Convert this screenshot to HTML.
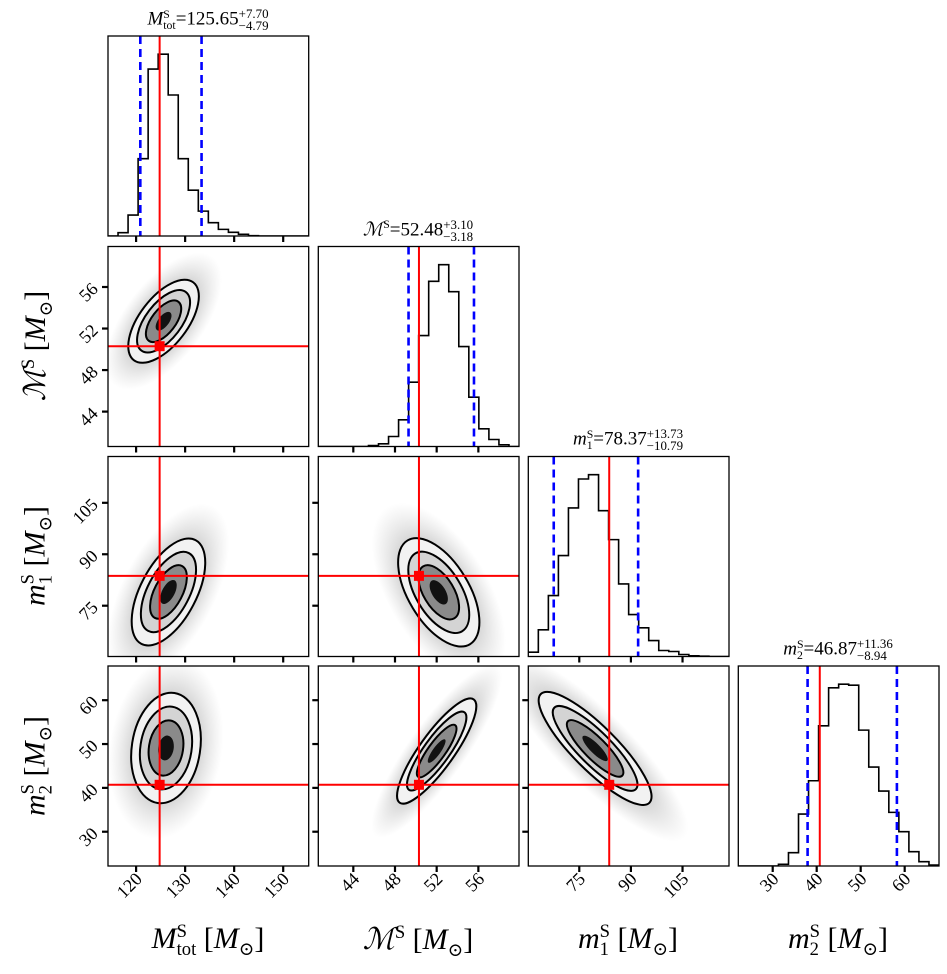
<!DOCTYPE html>
<html><head><meta charset="utf-8">
<style>
html,body{margin:0;padding:0;background:#fff;}
#wrap{position:relative;width:947px;height:974px;overflow:hidden;font-family:"Liberation Serif","DejaVu Serif",serif;}
svg{position:absolute;left:0;top:0;}
.lbl{position:absolute;white-space:nowrap;color:#000;}
.title{font-size:19px;transform:translateX(-50%);}
.xl{font-size:30px;transform:translateX(-50%);}
.yl{font-size:30px;transform:translate(-50%,-50%) rotate(-90deg);}
.ss{display:inline-flex;flex-direction:column;font-size:0.68em;line-height:0.95em;vertical-align:middle;}
.ss2{display:inline-flex;flex-direction:column;font-size:0.62em;line-height:1.0em;vertical-align:middle;}
i{font-style:italic;}
sub,sup{font-size:0.62em;}
</style></head>
<body>
<div id="wrap">
<svg id="chart" width="947" height="974" viewBox="0 0 947 974"></svg>

<div class="lbl title" style="left:208px;top:8px"><i>M</i><span class="ss2"><span>S</span><span>tot</span></span>=125.65<span class="ss"><span>+7.70</span><span>−4.79</span></span></div>
<div class="lbl title" style="left:418px;top:218px"><span style="font-family:'DejaVu Serif',serif;font-style:italic">ℳ</span><sup>S</sup>=52.48<span class="ss"><span>+3.10</span><span>−3.18</span></span></div>
<div class="lbl title" style="left:628px;top:428px"><i>m</i><span class="ss2"><span>S</span><span>1</span></span>=78.37<span class="ss"><span>+13.73</span><span>−10.79</span></span></div>
<div class="lbl title" style="left:838px;top:638px"><i>m</i><span class="ss2"><span>S</span><span>2</span></span>=46.87<span class="ss"><span>+11.36</span><span>−8.94</span></span></div>

<div class="lbl xl" style="left:208px;top:922px"><i>M</i><span class="ss2"><span>S</span><span>tot</span></span> [<i>M</i><sub>⊙</sub>]</div>
<div class="lbl xl" style="left:418px;top:922px"><span style="font-family:'DejaVu Serif',serif;font-style:italic">ℳ</span><sup>S</sup> [<i>M</i><sub>⊙</sub>]</div>
<div class="lbl xl" style="left:628px;top:922px"><i>m</i><span class="ss2"><span>S</span><span>1</span></span> [<i>M</i><sub>⊙</sub>]</div>
<div class="lbl xl" style="left:838px;top:922px"><i>m</i><span class="ss2"><span>S</span><span>2</span></span> [<i>M</i><sub>⊙</sub>]</div>

<div class="lbl yl" style="left:38px;top:346px"><span style="font-family:'DejaVu Serif',serif;font-style:italic">ℳ</span><sup>S</sup> [<i>M</i><sub>⊙</sub>]</div>
<div class="lbl yl" style="left:38px;top:556px"><i>m</i><span class="ss2"><span>S</span><span>1</span></span> [<i>M</i><sub>⊙</sub>]</div>
<div class="lbl yl" style="left:38px;top:766px"><i>m</i><span class="ss2"><span>S</span><span>2</span></span> [<i>M</i><sub>⊙</sub>]</div>
</div>

<script>
// ---- data ----
const paramNames = ["mtot","chirp","m1","m2"];
const axisLo = [114.27, 40.64, 60.19, 22.18];
const axisHi = [155.2, 59.9, 118.5, 67.8];
const truths = [124.8, 50.3, 83.7, 40.7];
const qLow = [120.86, 49.30, 67.58, 37.93];
const qHigh = [133.35, 55.58, 92.10, 58.23];
const histMtot = [0,10,63,233,503,548,425,233,138,75,40,20,11,5,1,0,0,0,0,0];
const histChirp = [0,0,0,0,0,3,8,30,80,193,333,496,546,465,300,148,53,21,5,0];
const histM1 = [13,80,183,303,446,533,546,438,351,218,126,86,48,18,15,6,2,1,0,0];
const histM2 = [0,0,0,0,5,40,156,256,421,535,546,543,408,297,225,161,103,43,13,3];
const tickMtot = [120,130,140,150];
const tickChirp = [44,48,52,56];
const tickM1 = [75,90,105];
const tickM2 = [30,40,50,60];
// 2D pairs: [col, row]
const pairCols = [0,0,1,0,1,2];
const pairRows = [1,2,2,3,3,3];
const pairMeanX = [125.6,126.6,52.2,126.1,52.0,79.6];
const pairMeanY = [52.7,79.0,78.9,49.1,48.4,49.0];
const pairSdX = [3.6,3.75,1.95,3.55,1.9,8.2];
const pairSdY = [2.0,7.8,7.9,6.3,6.0,6.45];
const pairRho = [0.6,0.55,-0.55,0.15,0.85,-0.85];

const hists = [histMtot,histChirp,histM1,histM2];
const ticks = [tickMtot,tickChirp,tickM1,tickM2];

// ---- layout ----
const colX = [108,318.3,528.3,738.3], rowY=[36,246.5,456.5,666], PW=200.7, PH=200;
const NS="http://www.w3.org/2000/svg";
const svg=document.getElementById('chart');
function mk(tag,attrs,parent){const e=document.createElementNS(NS,tag);for(const k in attrs)e.setAttribute(k,attrs[k]);(parent||svg).appendChild(e);return e;}
function xs(i,v){return colX[i]+(v-axisLo[i])/(axisHi[i]-axisLo[i])*PW;}
function ys(j,v){return rowY[j]+PH-(v-axisLo[j])/(axisHi[j]-axisLo[j])*PH;}

const defs=mk('defs',{});
for(let c=0;c<4;c++)for(let r=c;r<4;r++){
  const cp=mk('clipPath',{id:'clip'+c+'_'+r},defs);
  mk('rect',{x:colX[c],y:rowY[r],width:PW,height:PH},cp);
}
const rg=mk('radialGradient',{id:'cloud'},defs);
mk('stop',{offset:'0%','stop-color':'#555','stop-opacity':'0.55'},rg);
mk('stop',{offset:'60%','stop-color':'#777','stop-opacity':'0.3'},rg);
mk('stop',{offset:'100%','stop-color':'#999','stop-opacity':'0'},rg);

// diagonal histograms
for(let i=0;i<4;i++){
  const g=mk('g',{'clip-path':'url(#clip'+i+'_'+i+')'});
  
  
  const h=hists[i], n=h.length, mx=Math.max(...h)*1.1;
  const bw=(axisHi[i]-axisLo[i])/n;
  let d='';
  for(let b=0;b<n;b++){
    const x0=xs(i,axisLo[i]+b*bw), x1=xs(i,axisLo[i]+(b+1)*bw);
    const y=rowY[i]+PH-h[b]/mx*PH;
    d+=(b===0?'M'+x0+','+y:'L'+x0+','+y)+' L'+x1+','+y+' ';
  }
  const p=mk('path',{d:d,fill:'none',stroke:'#000','stroke-width':1.6},g);
  
  
  [qLow[i],qHigh[i]].forEach((q,k)=>{
    const l=mk('line',{x1:xs(i,q),x2:xs(i,q),y1:rowY[i],y2:rowY[i]+PH,stroke:'#0000ff','stroke-width':2.6,'stroke-dasharray':'8,5'},g);
    
    
  });
  const t=mk('line',{x1:xs(i,truths[i]),x2:xs(i,truths[i]),y1:rowY[i],y2:rowY[i]+PH,stroke:'#ff0000','stroke-width':2},g);
  
  
}

// 2D panels
function ell(c,r,k,mxv,myv,sdx,sdy,rho,attrs,parent){
  const a=PW/(axisHi[c]-axisLo[c]), b=PH/(axisHi[r]-axisLo[r]);
  const A=a*a*sdx*sdx, C=b*b*sdy*sdy, B=-a*b*rho*sdx*sdy;
  const tr=(A+C)/2, dt=Math.sqrt(((A-C)/2)**2+B*B);
  const l1=tr+dt, l2=Math.max(tr-dt,0.01);
  const ang=Math.atan2(l1-A,B)*180/Math.PI;
  const cx=xs(c,mxv), cy=ys(r,myv);
  const e=mk('ellipse',Object.assign({cx:cx,cy:cy,rx:k*Math.sqrt(l1),ry:k*Math.sqrt(l2),transform:'rotate('+(Math.abs(B)<1e-9?(A>=C?0:90):ang)+' '+cx+' '+cy+')'},attrs),parent);
  return e;
}
for(let p=0;p<pairCols.length;p++){
  const c=pairCols[p], r=pairRows[p];
  const nm=paramNames[c]+'-vs-'+paramNames[r];
  const g=mk('g',{'clip-path':'url(#clip'+c+'_'+r+')'});
  
  
  const args=[pairMeanX[p],pairMeanY[p],pairSdX[p],pairSdY[p],pairRho[p]];
  const cl=ell(c,r,3.3,...args,{fill:'url(#cloud)'},g);
  
  
  ell(c,r,2.0,...args,{fill:'#f2f2f2',stroke:'#000','stroke-width':2},g);
  ell(c,r,1.5,...args,{fill:'#d4d4d4',stroke:'#000','stroke-width':2},g);
  ell(c,r,1.0,...args,{fill:'#8a8a8a',stroke:'#000','stroke-width':2},g);
  ell(c,r,0.45,...args,{fill:'#111'},g);
  const vx=xs(c,truths[c]), hy=ys(r,truths[r]);
  const tl=mk('line',{x1:vx,x2:vx,y1:rowY[r],y2:rowY[r]+PH,stroke:'#ff0000','stroke-width':2},g);
  
  
  const th=mk('line',{x1:colX[c],x2:colX[c]+PW,y1:hy,y2:hy,stroke:'#ff0000','stroke-width':2},g);
  
  
  const tm=mk('rect',{x:vx-5,y:hy-5,width:10,height:10,fill:'#ff0000'},g);
  
  
}

// frames and ticks
for(let c=0;c<4;c++)for(let r=c;r<4;r++){
  const f=mk('rect',{x:colX[c],y:rowY[r],width:PW,height:PH,fill:'none',stroke:'#000','stroke-width':1.3});
  
  
  const yb=rowY[r]+PH;
  ticks[c].forEach(v=>{
    const x=xs(c,v);
    mk('line',{x1:x,x2:x,y1:yb,y2:yb+6,stroke:'#000','stroke-width':2.2});
    if(r===3){
      const t=mk('text',{x:x+7,y:yb+14,'text-anchor':'end','font-size':18,'font-family':'Liberation Serif, serif',transform:'rotate(-45 '+(x+7)+' '+(yb+14)+')'});
      t.textContent=v;
      
      
    }
  });
  if(r!==c){
    ticks[r].forEach(v=>{
      const y=ys(r,v);
      mk('line',{x1:colX[c]-6,x2:colX[c],y1:y,y2:y,stroke:'#000','stroke-width':2.2});
      if(c===0){
        const t=mk('text',{x:colX[c]-9,y:y+3,'text-anchor':'end','font-size':18,'font-family':'Liberation Serif, serif',transform:'rotate(-45 '+(colX[c]-9)+' '+(y+3)+')'});
        t.textContent=v;
        
        
      }
    });
  }
}
</script>
</body></html>
